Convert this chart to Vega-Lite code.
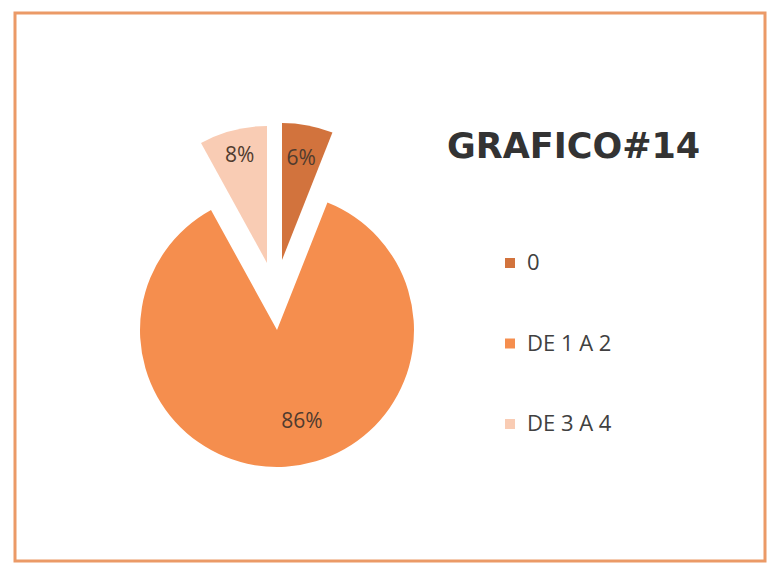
{
  "$schema": "https://vega.github.io/schema/vega-lite/v6.json",
  "width": 750,
  "height": 548,
  "autosize": "none",
  "padding": {"left": 15, "top": 13, "right": 3, "bottom": 2},
  "background": "white",
  "view": {"stroke": "#eb9a67", "strokeWidth": 3},
  "title": {
    "text": "GRAFICO#14",
    "orient": "top",
    "anchor": "start",
    "frame": "group",
    "offset": -152,
    "dx": 432,
    "fontSize": 35,
    "font": "DejaVu Sans",
    "fontWeight": "bold",
    "color": "#333333"
  },
  "data": {
    "values": [
      {"category": "0", "value": 6, "label": "6%"},
      {"category": "DE 1 A 2", "value": 86, "label": "86%"},
      {"category": "DE 3 A 4", "value": 8, "label": "8%"}
    ]
  },
  "transform": [
    {"stack": "value", "groupby": [], "sort": [{"field": "category", "order": "ascending"}], "as": ["v0", "v1"]},
    {"calculate": "(datum.v0 + datum.v1) / 2", "as": "mid"}
  ],
  "layer": [
    {
      "transform": [{"filter": "datum.category === '0'"}],
      "layer": [
        {
          "mark": {"type": "arc", "radius": 137, "xOffset": -108, "yOffset": -27},
          "encoding": {
            "theta": {"field": "v0", "type": "quantitative", "scale": {"domain": [0, 100]}},
            "theta2": {"field": "v1"},
            "color": {"field": "category", "type": "nominal"}
          }
        },
        {
          "mark": {"type": "text", "radius": 103, "xOffset": -108, "yOffset": -27, "fontSize": 21, "font": "Open Sans", "color": "#503b2e", "align": "center", "baseline": "middle"},
          "encoding": {
            "theta": {"field": "mid", "type": "quantitative", "scale": {"domain": [0, 100]}},
            "text": {"field": "label"}
          }
        }
      ]
    },
    {
      "transform": [{"filter": "datum.category === 'DE 1 A 2'"}],
      "layer": [
        {
          "mark": {"type": "arc", "radius": 137, "xOffset": -113, "yOffset": 43},
          "encoding": {
            "theta": {"field": "v0", "type": "quantitative", "scale": {"domain": [0, 100]}},
            "theta2": {"field": "v1"},
            "color": {"field": "category", "type": "nominal"}
          }
        },
        {
          "mark": {"type": "text", "radius": 95, "xOffset": -94, "yOffset": 40, "fontSize": 21, "font": "Open Sans", "color": "#503b2e", "align": "center", "baseline": "middle"},
          "encoding": {
            "theta": {"field": "mid", "type": "quantitative", "scale": {"domain": [0, 100]}},
            "text": {"field": "label"}
          }
        }
      ]
    },
    {
      "transform": [{"filter": "datum.category === 'DE 3 A 4'"}],
      "layer": [
        {
          "mark": {"type": "arc", "radius": 137, "xOffset": -123, "yOffset": -24},
          "encoding": {
            "theta": {"field": "v0", "type": "quantitative", "scale": {"domain": [0, 100]}},
            "theta2": {"field": "v1"},
            "color": {"field": "category", "type": "nominal"}
          }
        },
        {
          "mark": {"type": "text", "radius": 110, "xOffset": -123, "yOffset": -24, "fontSize": 21, "font": "Open Sans", "color": "#503b2e", "align": "center", "baseline": "middle"},
          "encoding": {
            "theta": {"field": "mid", "type": "quantitative", "scale": {"domain": [0, 100]}},
            "text": {"field": "label"}
          }
        }
      ]
    }
  ],
  "resolve": {"scale": {"theta": "shared", "color": "shared"}},
  "encoding": {},
  "config": {
    "range": {"category": ["#d2733d", "#f58e4e", "#f9ccb4"]},
    "legend": {
      "orient": "none",
      "legendX": 484,
      "legendY": 239,
      "title": null,
      "symbolType": "square",
      "symbolSize": 100,
      "symbolStrokeWidth": 0,
      "labelFontSize": 22,
      "labelFont": "Open Sans",
      "labelColor": "#404040",
      "rowPadding": 58.5,
      "labelOffset": 6
    }
  }
}
